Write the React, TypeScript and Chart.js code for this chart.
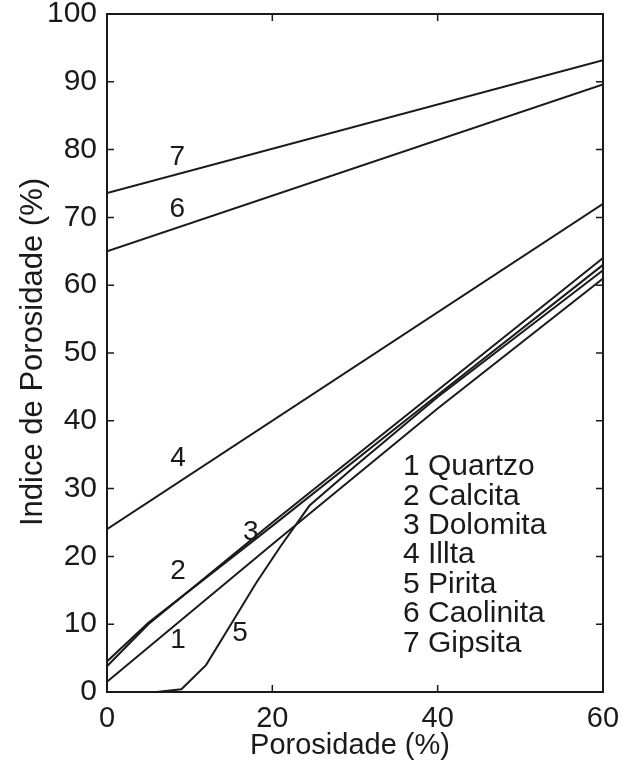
import React, { useEffect, useRef } from "react";
import { Chart, registerables } from "chart.js";

Chart.register(...registerables);

// Series data (x = Porosidade %, y = Indice de Porosidade %)
const quartzoX = [0, 20, 40, 60];
const quartzoY = [1.5, 21.8, 41.8, 61];
const calcitaX = [0, 5, 20, 40, 60];
const calcitaY = [4.5, 10.2, 24.5, 43.8, 63];
const dolomitaX = [0, 5, 20, 40, 60];
const dolomitaY = [3.8, 10.0, 25, 44.5, 64];
const ilitaX = [0, 60];
const ilitaY = [24, 72];
const piritaX = [0, 6, 9, 12, 15, 18, 21, 24.5, 30, 40, 60];
const piritaY = [0, 0, 0.4, 4, 10, 16, 21.5, 27.5, 33.3, 43.5, 62.2];
const caolinitaX = [0, 60];
const caolinitaY = [65, 89.6];
const gipsitaX = [0, 60];
const gipsitaY = [73.6, 93.2];

// Curve number labels, in data coordinates
const curveLabels = ["1", "2", "3", "4", "5", "6", "7"];
const curveLabelX = [8.6, 8.6, 17.4, 8.6, 16.1, 8.5, 8.5];
const curveLabelY = [7.7, 17.8, 23.6, 34.5, 8.6, 71.2, 78.8];

const legendItems = [
  "1 Quartzo",
  "2 Calcita",
  "3 Dolomita",
  "4 Illta",
  "5 Pirita",
  "6 Caolinita",
  "7 Gipsita",
];

const xTicks = [0, 20, 40, 60];
const yTicks = [0, 10, 20, 30, 40, 50, 60, 70, 80, 90, 100];

const xTitle = "Porosidade (%)";
const yTitle = "Indice de Porosidade (%)";

const FONT = "'Liberation Sans', Arial, Helvetica, sans-serif";
const INK = "#1a1a1a";

function pts(xs: number[], ys: number[]) {
  return xs.map((x, i) => ({ x, y: ys[i] }));
}

const overlayPlugin = {
  id: "overlay",
  afterDraw(chart: any) {
    const { ctx, chartArea, scales } = chart;
    const xs = scales.x;
    const ys = scales.y;
    const { left, right, top, bottom } = chartArea;
    ctx.save();
    // box
    ctx.strokeStyle = INK;
    ctx.lineWidth = 2;
    ctx.strokeRect(left, top, right - left, bottom - top);
    // inward ticks
    ctx.lineWidth = 1.5;
    const tl = 7;
    xTicks.forEach((v) => {
      const px = xs.getPixelForValue(v);
      ctx.beginPath();
      ctx.moveTo(px, bottom);
      ctx.lineTo(px, bottom - tl);
      ctx.moveTo(px, top);
      ctx.lineTo(px, top + tl);
      ctx.stroke();
    });
    yTicks.forEach((v) => {
      const py = ys.getPixelForValue(v);
      ctx.beginPath();
      ctx.moveTo(left, py);
      ctx.lineTo(left + tl, py);
      ctx.moveTo(right, py);
      ctx.lineTo(right - tl, py);
      ctx.stroke();
    });
    // curve labels
    ctx.fillStyle = INK;
    ctx.font = `28px ${FONT}`;
    ctx.textAlign = "center";
    ctx.textBaseline = "middle";
    curveLabels.forEach((t, i) => {
      ctx.fillText(t, xs.getPixelForValue(curveLabelX[i]), ys.getPixelForValue(curveLabelY[i]));
    });
    // legend text
    ctx.font = `30px ${FONT}`;
    ctx.textAlign = "left";
    legendItems.forEach((t, i) => {
      ctx.fillText(t, 403, 467 + i * 29.4);
    });
    // axis titles
    ctx.font = `29px ${FONT}`;
    ctx.textAlign = "center";
    ctx.fillText(xTitle, 350, 746);
    ctx.font = `31px ${FONT}`;
    ctx.translate(33, 352);
    ctx.rotate(-Math.PI / 2);
    ctx.fillText(yTitle, 0, 0);
    ctx.restore();
  },
};

export default function App() {
  const ref = useRef<HTMLCanvasElement>(null);
  useEffect(() => {
    if (!ref.current) return;
    const mk = (xs: number[], ys: number[]) => ({
      data: pts(xs, ys),
      borderColor: INK,
      borderWidth: 2,
      pointRadius: 0,
      fill: false,
      tension: 0,
    });
    const chart = new Chart(ref.current, {
      type: "line",
      data: {
        datasets: [
          mk(quartzoX, quartzoY),
          mk(calcitaX, calcitaY),
          mk(dolomitaX, dolomitaY),
          mk(ilitaX, ilitaY),
          mk(piritaX, piritaY),
          mk(caolinitaX, caolinitaY),
          mk(gipsitaX, gipsitaY),
        ],
      },
      options: {
        animation: false,
        responsive: true,
        maintainAspectRatio: false,
        layout: { padding: { left: 0, right: 32, top: 14, bottom: 0 } },
        plugins: { legend: { display: false }, tooltip: { enabled: false } },
        scales: {
          x: {
            type: "linear",
            min: 0,
            max: 60,
            afterFit: (s: any) => {
              s.height = 73;
              s.paddingLeft = 0;
              s.paddingRight = 0;
              s.paddingTop = 0;
              s.paddingBottom = 0;
            },
            grid: { display: false, drawTicks: false },
            border: { display: false },
            ticks: {
              stepSize: 20,
              padding: 10,
              color: INK,
              font: { family: FONT, size: 29 },
              maxRotation: 0,
            },
          },
          y: {
            type: "linear",
            min: 0,
            max: 100,
            afterFit: (s: any) => {
              s.width = 107;
              s.paddingLeft = 0;
              s.paddingRight = 0;
              s.paddingTop = 0;
              s.paddingBottom = 0;
            },
            grid: { display: false, drawTicks: false },
            border: { display: false },
            ticks: {
              stepSize: 10,
              padding: 10,
              color: INK,
              font: { family: FONT, size: 30 },
            },
          },
        },
      },
      plugins: [overlayPlugin],
    });
    return () => chart.destroy();
  }, []);
  return (
    <div style={{ position: "fixed", left: 0, top: 0, width: 635, height: 765, background: "#fff" }}>
      <canvas ref={ref} />
    </div>
  );
}
